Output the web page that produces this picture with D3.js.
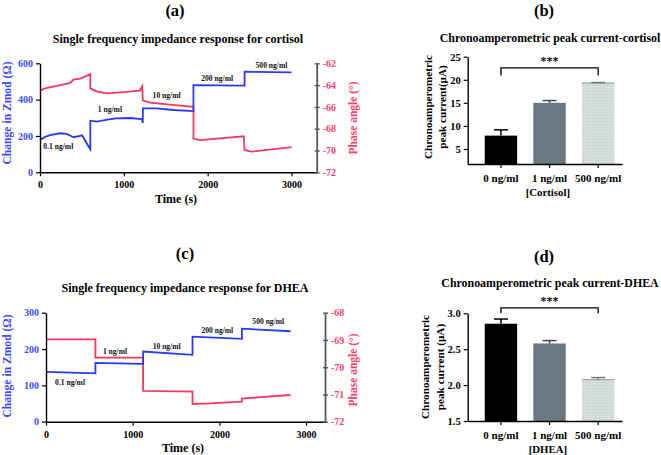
<!DOCTYPE html>
<html><head><meta charset="utf-8">
<script src="https://cdn.jsdelivr.net/npm/d3@7"></script>
<style>
body{margin:0;background:#fff}
text{font-family:"Liberation Serif","Times New Roman",serif;font-weight:bold}
</style>
</head><body>
<svg id="chart" width="661" height="455"></svg>
<script>
// ---------- data ----------
const concLabels = ["0.1 ng/ml","1 ng/ml","10 ng/ml","200 ng/ml","500 ng/ml"];

// (a) cortisol single-frequency impedance
const cortZmodTime  = [0, 60, 120, 240, 320, 400, 480, 500, 600, 600, 680, 790, 800, 910, 1070, 1215, 1225, 1228, 1240, 1390, 1590, 1830, 1830, 2430, 2440, 2440, 3000];
const cortZmod      = [178, 195, 205, 215, 211, 193, 200, 204, 127, 284, 279, 288, 290, 297, 299, 293, 272, 352, 352, 352, 343, 337, 480, 477, 477, 554, 550];
const cortPhaseTime = [0, 60, 240, 360, 400, 480, 600, 600, 680, 800, 1000, 1190, 1220, 1225, 1310, 1550, 1830, 1830, 1910, 2430, 2440, 2520, 3000];
const cortPhase     = [-64.5, -64.3, -64.0, -63.8, -63.5, -63.4, -63.0, -64.3, -64.6, -64.75, -64.65, -64.5, -64.1, -65.4, -65.6, -65.8, -66.0, -68.9, -69.05, -68.7, -69.95, -70.1, -69.7];
const cortLabelTime = [218, 834, 1510, 2113, 2761];
const cortLabelZmod = [141, 344, 421, 515, 591];

// (c) DHEA single-frequency impedance
const dheaZmodTime  = [0, 570, 570, 1120, 1120, 1690, 1690, 2260, 2260, 2820];
const dheaZmod      = [137, 133, 162, 159, 193, 184, 234, 228, 256, 249];
const dheaPhaseTime = [0, 570, 570, 1120, 1120, 1690, 1690, 1900, 2260, 2260, 2820];
const dheaPhase     = [-68.98, -68.98, -69.65, -69.65, -70.87, -70.9, -71.35, -71.33, -71.26, -71.15, -71.02];
const dheaLabelTime = [277, 796, 1392, 1976, 2564];
const dheaLabelZmod = [108, 193, 208, 252, 275];

// axis ticks
const timeTicks = [0, 1000, 2000, 3000];
const cortZmodTicks = [0, 200, 400, 600];
const cortPhaseTicks = [-72, -70, -68, -66, -64, -62];
const dheaZmodTicks = [0, 100, 200, 300];
const dheaPhaseTicks = [-72, -71, -70, -69, -68];

// (b),(d) chronoamperometric peak current
const barCategories = ["0 ng/ml", "1 ng/ml", "500 ng/ml"];
const cortPeak = [7.9, 15.0, 19.3];
const cortPeakErr = [1.25, 0.5, 0.1];
const dheaPeak = [2.855, 2.58, 2.075];
const dheaPeakErr = [0.065, 0.04, 0.03];
const cortPeakTicks = [5, 10, 15, 20, 25];
const dheaPeakTicks = [1.5, 2.0, 2.5, 3.0];

// ---------- drawing ----------
const svg = d3.select("#chart");
const BLUE = "#2a3af2", RED = "#f8375c", BLUE_T = "#3b4dff", RED_T = "#ff4266";

const defs = svg.append("defs");
const pat = defs.append("pattern").attr("id","dots").attr("patternUnits","userSpaceOnUse")
  .attr("width",3).attr("height",3);
pat.append("rect").attr("width",3).attr("height",3).attr("fill","#d6dddd");
pat.append("rect").attr("x",1).attr("y",1).attr("width",1).attr("height",1).attr("fill","#c2cccc");
const barFills = ["#000000", "#687981", "url(#dots)"];
const errColors = ["#000000", "#3f4b50", "#6f7b7b"];

function lineChart(o) {
  const g = svg.append("g");
  const x = d3.scaleLinear().domain([0, o.xMax]).range([o.left, o.right]);
  const yL = d3.scaleLinear().domain(o.leftDomain).range([o.bottom, o.top]);
  const yR = d3.scaleLinear().domain(o.rightDomain).range([o.bottom, o.top]);

  // lines
  const lineL = d3.line().x((d,i)=>x(o.zT[i])).y(d=>yL(d));
  const lineR = d3.line().x((d,i)=>x(o.pT[i])).y(d=>yR(d));
  g.append("path").datum(o.p).attr("d", lineR).attr("fill","none").attr("stroke",RED).attr("stroke-width",1.8);
  g.append("path").datum(o.z).attr("d", lineL).attr("fill","none").attr("stroke",BLUE).attr("stroke-width",1.8);

  // axes
  const ax = g.append("g").attr("transform",`translate(0,${o.bottom})`)
    .call(d3.axisBottom(x).tickValues(timeTicks).tickSize(4).tickSizeOuter(0).tickFormat(d=>String(d)));
  ax.selectAll("text").attr("font-size",10).attr("fill","#000").attr("dy","0.9em");
  ax.select(".domain").attr("stroke","#000").attr("stroke-width",1.4);
  ax.selectAll(".tick line").attr("stroke","#000").attr("stroke-width",1.2);

  const al = g.append("g").attr("transform",`translate(${o.left},0)`)
    .call(d3.axisLeft(yL).tickValues(o.leftTicks).tickSize(4).tickSizeOuter(0).tickFormat(d=>String(d)));
  al.selectAll("text").attr("font-size",10).attr("fill",BLUE_T);
  al.select(".domain").attr("stroke","#000").attr("stroke-width",1.4);
  al.selectAll(".tick line").attr("stroke","#000").attr("stroke-width",1.2);

  const ar = g.append("g").attr("transform",`translate(${o.right},0)`)
    .call(d3.axisRight(yR).tickValues(o.rightTicks).tickSize(3).tickSizeOuter(0).tickFormat(d=>String(d)));
  ar.selectAll("text").attr("font-size",10).attr("fill",RED_T);
  ar.select(".domain").attr("stroke","#555").attr("stroke-width",1.8);
  ar.selectAll(".tick line").attr("stroke","#555").attr("stroke-width",1.4).attr("x1",-2);

  // concentration labels
  g.selectAll("text.conc").data(concLabels).enter().append("text").attr("class","conc")
    .attr("x",(d,i)=>x(o.labT[i])).attr("y",(d,i)=>yL(o.labZ[i])).attr("dy","0.35em")
    .attr("text-anchor","middle").attr("font-size",7.6).attr("fill","#111").text(d=>d);

  // titles
  g.append("text").attr("x",o.letterX).attr("y",o.letterY).attr("text-anchor","middle")
    .attr("font-size",16.5).attr("fill","#000").text(o.letter);
  g.append("text").attr("x",o.titleX).attr("y",o.titleY).attr("text-anchor","middle")
    .attr("font-size",12).attr("fill","#000").text(o.title);
  g.append("text").attr("x",o.titleX - 2).attr("y",o.xLabelY).attr("text-anchor","middle")
    .attr("font-size",12).attr("fill","#000").text("Time (s)");
  g.append("text").attr("transform",`translate(11,${o.yLabelY}) rotate(-90)`).attr("text-anchor","middle")
    .attr("font-size",11.6).attr("fill",BLUE_T).text("Change in Zmod (Ω)");
  g.append("text").attr("transform",`translate(${o.rLabelX},${o.rLabelY}) rotate(-90)`).attr("text-anchor","middle")
    .attr("font-size",11.5).attr("fill",RED_T).text("Phase angle (°)");
}

lineChart({
  left:40, right:316.7, top:63.3, bottom:172.3, xMax:3300,
  leftDomain:[0,600], rightDomain:[-72,-62], leftTicks:cortZmodTicks, rightTicks:cortPhaseTicks,
  zT:cortZmodTime, z:cortZmod, pT:cortPhaseTime, p:cortPhase, labT:cortLabelTime, labZ:cortLabelZmod,
  letter:"(a)", letterX:175, letterY:16, title:"Single frequency impedance response for cortisol",
  titleX:178, titleY:43, xLabelY:203, yLabelY:113, rLabelX:357, rLabelY:118
});
lineChart({
  left:46, right:325, top:312.7, bottom:421.7, xMax:3218,
  leftDomain:[0,300], rightDomain:[-72,-68], leftTicks:dheaZmodTicks, rightTicks:dheaPhaseTicks,
  zT:dheaZmodTime, z:dheaZmod, pT:dheaPhaseTime, p:dheaPhase, labT:dheaLabelTime, labZ:dheaLabelZmod,
  letter:"(c)", letterX:185, letterY:259, title:"Single frequency impedance response for DHEA",
  titleX:185, titleY:291.5, xLabelY:452, yLabelY:366, rLabelX:357, rLabelY:370
});

function barChart(o) {
  const g = svg.append("g");
  const x = d3.scaleBand().domain(barCategories).range([o.left, o.right])
    .paddingInner(0.333).paddingOuter(0.254).align(0.69);
  const y = d3.scaleLinear().domain(o.domain).range([o.bottom, o.top]);
  const bw = x.bandwidth();

  g.selectAll("rect.bar").data(o.values).enter().append("rect").attr("class","bar")
    .attr("x",(d,i)=>x(barCategories[i])).attr("y",d=>y(d))
    .attr("width",bw).attr("height",d=>o.bottom - y(d)).attr("fill",(d,i)=>barFills[i]);
  // top edge of light bar
  g.append("line").attr("x1",x(barCategories[2])).attr("x2",x(barCategories[2])+bw)
    .attr("y1",y(o.values[2])).attr("y2",y(o.values[2])).attr("stroke","#8a9595").attr("stroke-width",1);

  // error bars (upper only)
  o.values.forEach((v,i)=>{
    const cx = x(barCategories[i]) + bw/2;
    g.append("line").attr("x1",cx).attr("x2",cx).attr("y1",y(v)).attr("y2",y(v+o.errs[i]))
      .attr("stroke",errColors[i]).attr("stroke-width",1.5);
    g.append("line").attr("x1",cx-7).attr("x2",cx+7).attr("y1",y(v+o.errs[i])).attr("y2",y(v+o.errs[i]))
      .attr("stroke",errColors[i]).attr("stroke-width",1.5);
  });

  // axes
  const al = g.append("g").attr("transform",`translate(${o.left},0)`)
    .call(d3.axisLeft(y).tickValues(o.ticks).tickSize(4).tickSizeOuter(0).tickFormat(o.fmt));
  al.selectAll("text").attr("font-size",10.5).attr("fill","#000");
  al.select(".domain").attr("stroke","#000").attr("stroke-width",1.4);
  al.selectAll(".tick line").attr("stroke","#000").attr("stroke-width",1.2);
  const ab = g.append("g").attr("transform",`translate(0,${o.bottom})`)
    .call(d3.axisBottom(x).tickSize(4).tickSizeOuter(0));
  ab.selectAll("text").attr("font-size",11).attr("fill","#000").attr("dy","1.0em");
  ab.select(".domain").attr("stroke","#000").attr("stroke-width",1.4);
  ab.selectAll(".tick line").attr("stroke","#000").attr("stroke-width",1.2);

  // significance bracket
  const c0 = x(barCategories[0]) + bw/2, c2 = x(barCategories[2]) + bw/2;
  g.append("path").attr("d",`M${c0},${y(o.brLow)}V${y(o.brHigh)}H${c2}V${y(o.brLow)}`)
    .attr("fill","none").attr("stroke","#000").attr("stroke-width",1.3);
  g.append("text").attr("x",(c0+c2)/2).attr("y",y(o.brHigh)-3).attr("text-anchor","middle")
    .attr("font-size",12).attr("fill","#000").text("***");

  // texts
  g.append("text").attr("x",o.letterX).attr("y",o.letterY).attr("text-anchor","middle")
    .attr("font-size",16.5).attr("fill","#000").text(o.letter);
  g.append("text").attr("x",550).attr("y",o.titleY).attr("text-anchor","middle")
    .attr("font-size",11.9).attr("fill","#000").text(o.title);
  g.append("text").attr("x",(o.left+o.right)/2+3).attr("y",o.xLabelY).attr("text-anchor","middle")
    .attr("font-size",10.8).attr("fill","#000").text(o.xLabel);
  const yl = g.append("text").attr("transform",`translate(${o.yLabX},${o.yLabY}) rotate(-90)`)
    .attr("text-anchor","middle").attr("font-size",11.2).attr("fill","#000");
  yl.append("tspan").attr("x",0).attr("dy",0).text("Chronoamperometric");
  yl.append("tspan").attr("x",0).attr("dy","1.3em").text(o.yLab2);
}

barChart({
  left:467.7, right:622, top:56.7, bottom:164, domain:[1.75,25], ticks:cortPeakTicks, fmt:d3.format("d"),
  values:cortPeak, errs:cortPeakErr, brLow:20.9, brHigh:22.6,
  letter:"(b)", letterX:544, letterY:16, title:"Chronoamperometric peak current-cortisol", titleY:41.5,
  xLabel:"[Cortisol]", xLabelY:196, yLabX:431.5, yLabY:107, yLab2:"peak current(μA)"
});
barChart({
  left:467.7, right:622, top:313.3, bottom:421, domain:[1.5,3.0], ticks:dheaPeakTicks, fmt:d3.format(".1f"),
  values:dheaPeak, errs:dheaPeakErr, brLow:3.0, brHigh:3.075,
  letter:"(d)", letterX:544, letterY:262, title:"Chronoamperometric peak current-DHEA", titleY:287,
  xLabel:"[DHEA]", xLabelY:453, yLabX:429, yLabY:367, yLab2:"peak current (μA)"
});
</script>
</body></html>
